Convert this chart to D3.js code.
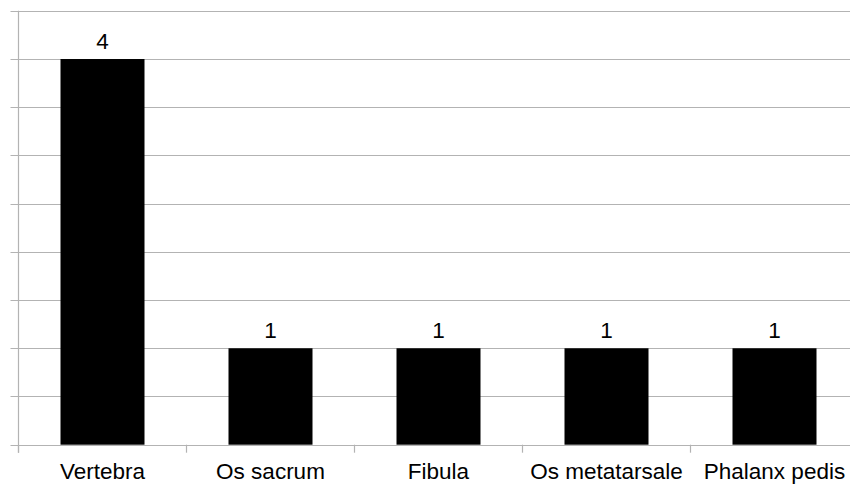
<!DOCTYPE html>
<html><head><meta charset="utf-8">
<script src="https://cdn.jsdelivr.net/npm/d3@7"></script>
<style>body{margin:0;background:#fff}svg{display:block}</style>
</head><body>
<svg id="c" width="850" height="486"></svg>
<script>
const categories = ["Vertebra","Os sacrum","Fibula","Os metatarsale","Phalanx pedis"];
const values = [4,1,1,1,1];
const yTicks = [0,0.5,1,1.5,2,2.5,3,3.5,4,4.5];

(function(){
const svg = d3.select("#c");
const plotLeft = 18.5, bandW = 168, plotTop = 10.8, plotBottom = 444.7;
const x = d3.scaleBand().domain(categories).range([plotLeft, plotLeft + bandW*categories.length]).paddingInner(0.5).paddingOuter(0.25);
const y = d3.scaleLinear().domain([0,4.5]).range([plotBottom, plotTop]);
const grid = "#b3b3b3";
const font = "'Liberation Sans', Arial, sans-serif";

svg.append("g").selectAll("line").data(yTicks).join("line")
  .attr("x1", plotLeft - 8).attr("x2", 850)
  .attr("y1", d => Math.round(y(d)) + 0.5).attr("y2", d => Math.round(y(d)) + 0.5)
  .attr("stroke", grid).attr("stroke-width", 1.2);

svg.append("line").attr("x1", plotLeft).attr("x2", plotLeft).attr("y1", plotTop).attr("y2", plotBottom + 8)
  .attr("stroke", grid).attr("stroke-width", 1.2);

const bounds = d3.range(categories.length + 1).map(i => plotLeft + i*bandW);
svg.append("g").selectAll("line").data(bounds).join("line")
  .attr("x1", d => d).attr("x2", d => d).attr("y1", plotBottom).attr("y2", plotBottom + 8)
  .attr("stroke", grid).attr("stroke-width", 1.2);

svg.append("g").selectAll("rect").data(values).join("rect")
  .attr("x", (d,i) => x(categories[i]))
  .attr("width", x.bandwidth())
  .attr("y", d => y(d))
  .attr("height", d => y(0) - y(d))
  .attr("fill", "#000");

svg.append("g").selectAll("text").data(values).join("text")
  .attr("x", (d,i) => x(categories[i]) + x.bandwidth()/2)
  .attr("y", d => y(d) - 10)
  .attr("text-anchor", "middle")
  .attr("font-family", font).attr("font-size", 22.5).attr("fill", "#000")
  .text(d => d);

svg.append("g").selectAll("text").data(categories).join("text")
  .attr("x", d => x(d) + x.bandwidth()/2)
  .attr("y", 479)
  .attr("text-anchor", "middle")
  .attr("font-family", font).attr("font-size", 22.5).attr("fill", "#000")
  .text(d => d);
})();
</script>
</body></html>
